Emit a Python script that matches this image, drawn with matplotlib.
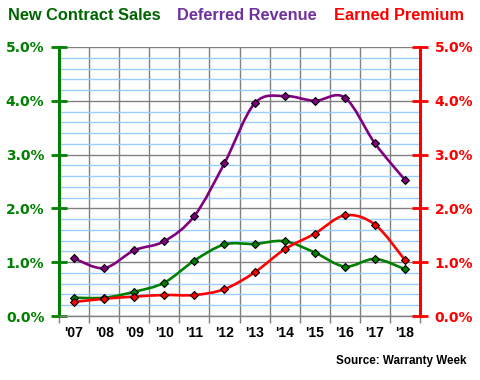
"""Warranty-style three-series ratio chart with smoothed lines."""
import matplotlib
matplotlib.use("Agg")
import matplotlib.pyplot as plt
from matplotlib.path import Path
from matplotlib.patches import PathPatch
from matplotlib.ticker import MultipleLocator, FuncFormatter
import numpy as np

plt.rcParams["font.family"] = ["Liberation Sans", "DejaVu Sans"]

years = ["'07", "'08", "'09", "'10", "'11", "'12", "'13", "'14", "'15", "'16", "'17", "'18"]
new_contract_sales = [0.34, 0.34, 0.45, 0.62, 1.03, 1.33, 1.34, 1.39, 1.18, 0.92, 1.06, 0.87]
deferred_revenue = [1.07, 0.89, 1.22, 1.39, 1.86, 2.84, 3.95, 4.09, 4.00, 4.06, 3.21, 2.53]
earned_premium = [0.26, 0.32, 0.36, 0.39, 0.39, 0.50, 0.81, 1.24, 1.53, 1.87, 1.70, 1.04]

GREEN = "#008000"
PURPLE = "#800080"
RED = "#FF0000"


def smooth_path(xs, ys):
    # Catmull-Rom style bezier segments, like a spreadsheet "smoothed line"
    pts = np.column_stack([xs, ys])
    n = len(pts)
    verts = [pts[0]]
    codes = [Path.MOVETO]
    for i in range(n - 1):
        p0 = pts[max(i - 1, 0)]
        p1 = pts[i]
        p2 = pts[i + 1]
        p3 = pts[min(i + 2, n - 1)]
        c1 = p1 + (p2 - p0) / 6
        c2 = p2 - (p3 - p1) / 6
        verts += [c1, c2, p2]
        codes += [Path.CURVE4] * 3
    return Path(verts, codes)


fig = plt.figure(figsize=(4.8, 3.8), dpi=100)
ax = fig.add_axes([59 / 480, 64 / 380, 361 / 480, 269 / 380])
x = np.arange(len(years))

ax.set_xlim(-0.5, len(years) - 0.5)
ax.set_ylim(0, 5)

# grid
ax.yaxis.set_minor_locator(MultipleLocator(0.2))
ax.yaxis.set_major_locator(MultipleLocator(1.0))
ax.grid(which="minor", axis="y", color="#99CCFF", lw=1.0, zorder=0)
ax.grid(which="major", axis="y", color="#808080", lw=1.0, zorder=0.5)
for b in np.arange(0.5, len(years) - 1, 1.0):
    ax.axvline(b, color="#808080", lw=1.0, zorder=0.5)

for vals, col in [(new_contract_sales, GREEN), (deferred_revenue, PURPLE), (earned_premium, RED)]:
    ax.add_patch(PathPatch(smooth_path(x, vals), fill=False, edgecolor=col, lw=1.9, zorder=3))
    ax.plot(x, vals, ls="none", marker="D", ms=4.5, mfc=col, mec="black", mew=0.8, zorder=4)

# spines
ax.spines["top"].set_visible(False)
ax.spines["left"].set_color(GREEN)
ax.spines["left"].set_linewidth(2.2)
ax.spines["right"].set_color(RED)
ax.spines["right"].set_linewidth(2.2)
ax.spines["bottom"].set_color("#808080")
ax.spines["bottom"].set_linewidth(1.0)

tick_font = {"family": "DejaVu Sans", "weight": "bold", "size": 10}
pct = FuncFormatter(lambda v, _: f"{v:.1f}%")
ax.yaxis.set_major_formatter(pct)
ax.tick_params(axis="y", which="minor", length=0)
ax.tick_params(axis="y", which="major", direction="inout", length=11, width=2, color=GREEN,
               labelcolor=GREEN, pad=5)
for lab in ax.get_yticklabels():
    lab.set_fontproperties(tick_font)

ax2 = ax.twinx()
ax2.set_ylim(0, 5)
ax2.yaxis.set_major_locator(MultipleLocator(1.0))
ax2.yaxis.set_major_formatter(pct)
ax2.tick_params(axis="y", direction="inout", length=11, width=2, color=RED,
                labelcolor=RED, pad=5)
for lab in ax2.get_yticklabels():
    lab.set_fontproperties(tick_font)
for s in ax2.spines.values():
    s.set_visible(False)

ax.set_xticks(np.arange(-0.5, len(years), 1.0))
ax.set_xticklabels([])
ax.tick_params(axis="x", direction="out", length=5, width=1, color="#808080")
for xi, lab in zip(x, years):
    ax.text(xi, -0.063, lab, transform=ax.get_xaxis_transform(), ha="center", va="center",
            fontsize=10, fontweight="bold", color="black")

fig.text(8 / 480, 1 - 16 / 380, "New Contract Sales", color="#006400", fontsize=11.8,
         fontweight="bold", ha="left", va="center")
fig.text(177 / 480, 1 - 16 / 380, "Deferred Revenue", color="#7030A0", fontsize=11.8,
         fontweight="bold", ha="left", va="center")
fig.text(334 / 480, 1 - 16 / 380, "Earned Premium", color=RED, fontsize=11.8,
         fontweight="bold", ha="left", va="center")
fig.text(466 / 480, 1 - 361 / 380, "Source: Warranty Week", color="black", fontsize=8.4,
         fontweight="bold", ha="right", va="center")

fig.savefig("out.png", dpi=100)
